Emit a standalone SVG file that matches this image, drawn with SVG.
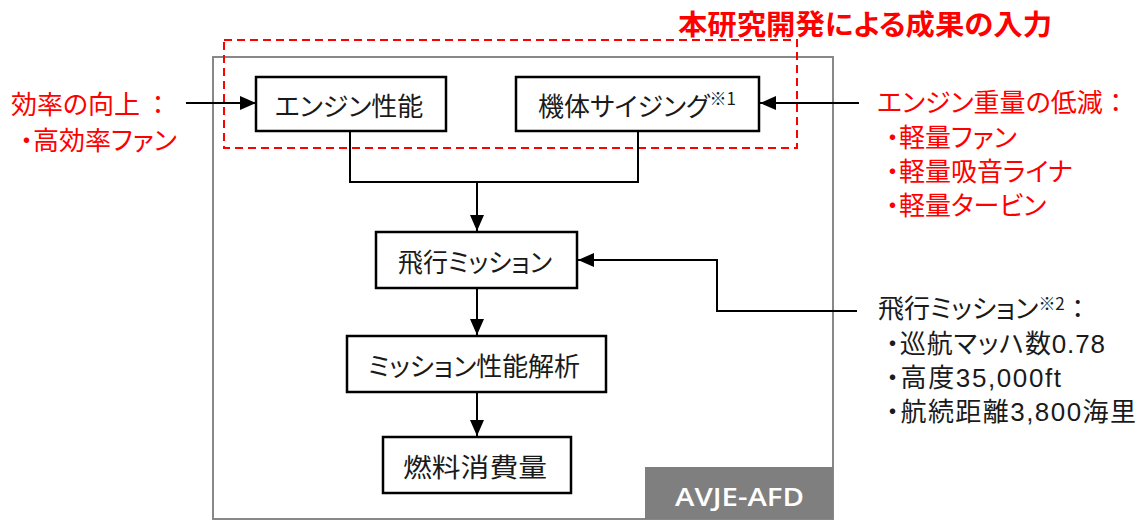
<svg xmlns="http://www.w3.org/2000/svg" width="1142" height="521" viewBox="0 0 1142 521">
<style>
text{font-family:"Noto Sans CJK JP","Noto Sans CJK SC",sans-serif;font-feature-settings:"palt";}
.np{font-feature-settings:normal;}
.num{font-family:"Liberation Sans",Arial,sans-serif;}
.node rect{fill:#fff;stroke:#000;stroke-width:2.5;}
.nt{font-size:26px;fill:#1a1a1a;text-anchor:middle;dominant-baseline:central;}
.red{fill:#ff0000;font-size:26px;}
.blk{fill:#1a1a1a;font-size:26px;}
.conn path{fill:none;stroke:#000;stroke-width:2;}
</style>
<defs>
<marker id="arr" viewBox="0 0 16 14" refX="16" refY="7" markerWidth="16" markerHeight="14" markerUnits="userSpaceOnUse" orient="auto">
<path d="M0,0 L16,7 L0,14 z" fill="#000"/>
</marker>
</defs>
<rect id="frame" x="213" y="57" width="620" height="462" fill="none" stroke="#888" stroke-width="2"/>
<g id="label-avje">
<rect x="645" y="467" width="188" height="52" fill="#7f7f7f"/>
<text x="739.5" y="496" fill="#fff" font-size="25" font-weight="600" text-anchor="middle" dominant-baseline="central" textLength="129" lengthAdjust="spacingAndGlyphs" style="font-family:'Open Sans','Noto Sans',sans-serif">AVJE-AFD</text>
</g>
<g id="highlight">
<rect x="224" y="40" width="573" height="108" fill="none" stroke="#ff0000" stroke-width="2" stroke-dasharray="8,5"/>
<text x="678" y="23" font-size="28" font-weight="bold" fill="#ff0000" dominant-baseline="central" textLength="374" lengthAdjust="spacingAndGlyphs">本研究開発による成果の入力</text>
</g>
<g class="conn" id="connectors">
<path d="M350,131 V182 H638 V131"/>
<path d="M477,182 V231" marker-end="url(#arr)"/>
<path d="M477,288 V335" marker-end="url(#arr)"/>
<path d="M477,392 V436" marker-end="url(#arr)"/>
<path d="M186,103 H256" marker-end="url(#arr)"/>
<path d="M859,103 H760" marker-end="url(#arr)"/>
<path d="M857,311 H717 V260 H578" marker-end="url(#arr)"/>
</g>
<g class="node" id="n-engine"><rect x="256" y="77" width="190" height="54"/><text class="nt" x="349" y="104">エンジン性能</text></g>
<g class="node" id="n-airframe"><rect x="516" y="77" width="243" height="54"/><text class="nt" x="637" y="104">機体サイジング<tspan font-size="17" dy="-7">※1</tspan></text></g>
<g class="node" id="n-mission"><rect x="376" y="232" width="201" height="56"/><text class="nt" x="475" y="260" textLength="154" lengthAdjust="spacingAndGlyphs">飛行ミッション</text></g>
<g class="node" id="n-analysis"><rect x="347" y="336" width="259" height="56"/><text class="nt" x="474" y="364" textLength="212" lengthAdjust="spacingAndGlyphs">ミッション性能解析</text></g>
<g class="node" id="n-fuel"><rect x="383" y="437" width="188" height="56"/><text class="nt" x="475" y="465" font-size="27" textLength="144" lengthAdjust="spacingAndGlyphs">燃料消費量</text></g>
<g id="note-left">
<text class="red" x="11" y="114">効率の向上<tspan class="np" dx="5">：</tspan></text>
<text class="red" x="20" y="150">・高効率ファン</text>
</g>
<g id="note-right-red">
<text class="red" x="877" y="112">エンジン重量の低減<tspan class="np">：</tspan></text>
<text class="red" x="886" y="147">・軽量ファン</text>
<text class="red" x="886" y="181">・軽量吸音ライナ</text>
<text class="red" x="886" y="215">・軽量タービン</text>
</g>
<g id="note-mission">
<text class="blk" x="878" y="318" font-size="25">飛行ミッション<tspan font-size="17" dy="-8">※2</tspan><tspan class="np" dy="8">：</tspan></text>
<text class="blk" x="886" y="353" textLength="219" lengthAdjust="spacing">・巡航マッハ数<tspan class="num">0.78</tspan></text>
<text class="blk" x="886" y="387" textLength="175" lengthAdjust="spacing">・高度<tspan class="num">35,000ft</tspan></text>
<text class="blk" x="886" y="421" textLength="250" lengthAdjust="spacing">・航続距離<tspan class="num">3,800</tspan>海里</text>
</g>
</svg>
